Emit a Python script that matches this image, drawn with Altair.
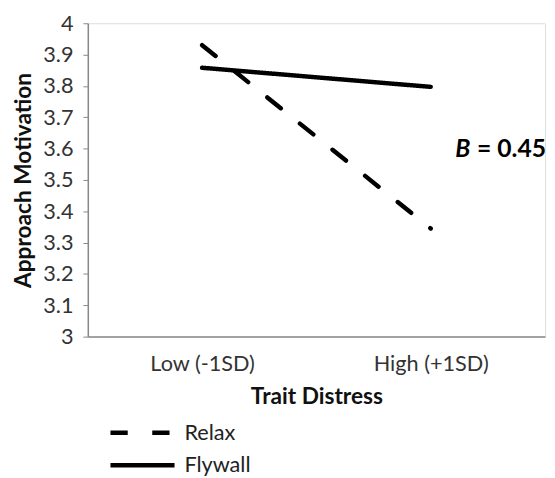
import altair as alt
import pandas as pd

categories = ["Low (-1SD)", "High (+1SD)"]
relax = [3.93, 3.345]
flywall = [3.858, 3.797]
series = ["Relax", "Flywall"]
y_ticks = [3.0, 3.1, 3.2, 3.3, 3.4, 3.5, 3.6, 3.7, 3.8, 3.9, 4.0]

rows = []
for c, v in zip(categories, relax):
    rows.append({"distress": c, "value": v, "group": "Relax"})
for c, v in zip(categories, flywall):
    rows.append({"distress": c, "value": v, "group": "Flywall"})
df = pd.DataFrame(rows)

FONT = "Lato"

lines = alt.Chart(df).mark_line(strokeWidth=4.5, color="black", strokeCap="round").encode(
    x=alt.X("distress:N", sort=categories, title="Trait Distress",
            scale=alt.Scale(type="point", padding=0.5),
            axis=alt.Axis(labelAngle=0, ticks=False, labelPadding=17, titlePadding=12,
                          labelFontSize=22, titleFontSize=23, labelFont=FONT, titleFont=FONT,
                          labelColor="#333333", titleColor="#111111",
                          domainColor="#888888", domainWidth=1.5, titleFontWeight="bold")),
    y=alt.Y("value:Q", title="Approach Motivation",
            scale=alt.Scale(domain=[3, 4], nice=False, zero=False),
            axis=alt.Axis(values=y_ticks, format="~g", grid=False, tickSize=5,
                          tickColor="#888888", domainColor="#888888", domainWidth=1.5,
                          labelFontSize=22, titleFontSize=23, labelFont=FONT, titleFont=FONT,
                          labelColor="#333333", titleColor="#111111", labelPadding=10,
                          titlePadding=7, titleFontWeight="bold")),
    strokeDash=alt.StrokeDash("group:N", sort=series,
                              scale=alt.Scale(domain=series, range=[[17.5, 24.9], [1, 0]]),
                              legend=alt.Legend(title=None, orient="none", legendX=40, legendY=400,
                                                symbolType="M-2.5,0H2.5", symbolSize=676,
                                                symbolStrokeWidth=4.5, symbolStrokeColor="black",
                                                labelFontSize=22, labelFont=FONT, labelColor="#222222",
                                                labelOffset=27, rowPadding=6)),
    detail="group:N",
)

b_label = alt.Chart(pd.DataFrame({"t": ["B"]})).mark_text(
    fontStyle="italic", fontWeight="bold", fontSize=25, font=FONT, align="left", baseline="middle",
    color="black").encode(x=alt.value(373), y=alt.value(128), text="t:N")
b_value = alt.Chart(pd.DataFrame({"t": ["= 0.45"]})).mark_text(
    fontWeight="bold", fontSize=25, font=FONT, align="left", baseline="middle",
    color="black").encode(x=alt.value(395), y=alt.value(128), text="t:N")

chart = alt.layer(lines, b_label, b_value).properties(
    width=464, height=318,
    autosize=alt.AutoSizeParams(type="none"),
    padding={"left": 81, "top": 12, "right": 2, "bottom": 140},
).configure_view(stroke=None).configure(background="white")

chart.save("out.html", embed_options={"renderer": "svg", "actions": False})
